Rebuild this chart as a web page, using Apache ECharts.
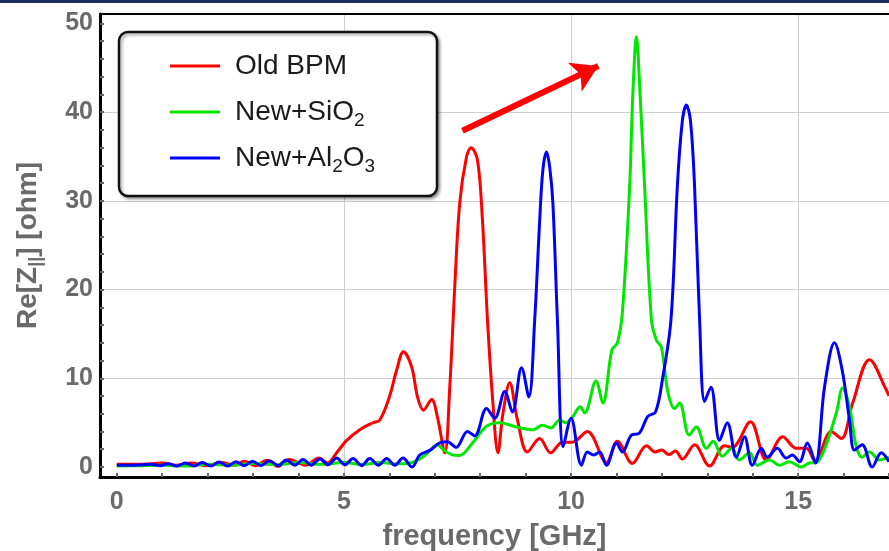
<!DOCTYPE html>
<html>
<head>
<meta charset="utf-8">
<script src="https://cdn.jsdelivr.net/npm/echarts@6/dist/echarts.min.js"></script>
<style>html,body{margin:0;padding:0;background:#fff;}#c{width:889px;height:551px;}</style>
</head>
<body>
<div id="c"></div>
<script>
// ---- data (frequency GHz, Re[Z] ohm) ----
const oldBPM = [[0,0.3],[0.5,0.3],[1.0,0.45],[1.3,0.2],[1.65,0.45],[1.95,0.15],[2.3,0.5],[2.6,0.2],[2.8,0.65],[3.05,0.15],[3.3,0.75],[3.55,0.05],[3.8,0.85],[4.15,0.2],[4.45,1.0],[4.64,0.45],[4.84,1.6],[5.06,3.0],[5.35,4.2],[5.63,4.96],[5.79,5.3],[6.0,7.9],[6.16,10.9],[6.31,13.0],[6.49,11.3],[6.62,7.9],[6.75,6.4],[6.93,7.6],[7.06,5.6],[7.22,1.6],[7.33,9.0],[7.44,20.3],[7.55,29.8],[7.7,35.0],[7.8,36.0],[7.94,34.6],[8.05,27.8],[8.16,16.6],[8.28,7.2],[8.39,1.6],[8.5,6.0],[8.65,9.5],[8.82,5.3],[9.04,1.7],[9.31,3.2],[9.55,1.6],[9.81,2.8],[10.03,2.8],[10.36,4.0],[10.78,0.5],[11.02,2.9],[11.35,0.4],[11.66,2.4],[11.85,1.7],[12.0,1.9],[12.15,1.4],[12.3,1.8],[12.45,0.9],[12.72,2.5],[13.05,0.1],[13.38,2.4],[13.55,2.2],[13.95,5.1],[14.3,0.8],[14.66,3.4],[14.96,2.1],[15.18,2.1],[15.37,0.7],[15.73,4.0],[15.95,3.2],[16.2,7.2],[16.57,12.1],[16.94,8.7],[17.0,8.0]];

const newSiO2 = [[0,0.1],[0.5,0.15],[1.0,0.2],[1.5,0.1],[2.0,0.3],[2.5,0.2],[3.0,0.4],[3.5,0.25],[4.0,0.5],[4.5,0.3],[5.0,0.5],[5.4,0.3],[5.8,0.5],[6.2,0.35],[6.5,0.5],[6.73,1.1],[6.9,1.9],[7.05,2.5],[7.2,1.9],[7.4,1.35],[7.55,1.3],[7.83,2.7],[8.14,4.6],[8.43,5.0],[8.8,4.5],[9.16,4.2],[9.37,4.7],[9.56,4.4],[9.75,5.3],[9.88,5.0],[10.03,5.6],[10.2,6.8],[10.3,6.1],[10.55,9.7],[10.7,7.2],[10.9,13.2],[11.02,14.0],[11.13,17.4],[11.29,31.6],[11.36,42.0],[11.44,48.5],[11.52,42.0],[11.62,31.6],[11.77,16.6],[11.88,14.3],[11.99,13.5],[12.13,8.5],[12.28,6.6],[12.39,7.2],[12.6,3.6],[12.76,4.5],[12.98,2.1],[13.13,2.9],[13.33,1.2],[13.54,2.1],[13.7,0.8],[13.93,1.6],[14.1,0.2],[14.37,0.8],[14.59,0.2],[14.8,0.6],[15.07,0.0],[15.25,0.45],[15.4,0.5],[15.6,2.3],[15.84,6.1],[15.98,8.9],[16.13,6.8],[16.28,2.3],[16.41,1.1],[16.57,1.7],[16.79,0.8],[17.0,1.1]];

const newAl2O3 = [[0,0.2],[0.4,0.2],[0.77,0.3],[0.95,0.15],[1.14,0.35],[1.32,0.1],[1.51,0.45],[1.7,0.1],[1.88,0.5],[2.07,0.1],[2.25,0.55],[2.44,0.1],[2.62,0.6],[2.8,0.15],[2.99,0.65],[3.17,0.15],[3.36,0.7],[3.55,0.15],[3.73,0.8],[3.92,0.2],[4.1,0.85],[4.28,0.2],[4.47,0.9],[4.65,0.25],[4.84,1.0],[5.02,0.25],[5.2,0.95],[5.39,0.15],[5.57,0.95],[5.76,0.2],[5.94,0.95],[6.12,0.2],[6.3,1.0],[6.5,0.0],[6.67,1.35],[6.9,1.9],[7.1,2.7],[7.28,2.85],[7.47,2.2],[7.72,4.0],[7.88,3.5],[8.14,6.6],[8.32,5.5],[8.54,8.5],[8.71,6.2],[8.91,11.2],[9.07,7.9],[9.2,16.6],[9.31,27.8],[9.38,33.5],[9.46,35.5],[9.53,33.8],[9.6,29.8],[9.7,16.6],[9.83,2.3],[10.0,5.5],[10.23,0.2],[10.36,1.7],[10.5,1.35],[10.63,1.7],[10.78,0.2],[11.0,2.7],[11.13,1.7],[11.33,3.6],[11.5,3.8],[11.69,5.7],[11.86,6.2],[12.01,9.8],[12.2,16.6],[12.34,31.6],[12.45,39.0],[12.54,40.8],[12.63,39.0],[12.72,31.6],[12.83,16.6],[12.94,7.4],[13.08,9.0],[13.27,3.0],[13.44,5.0],[13.64,1.1],[13.82,3.4],[13.99,0.2],[14.19,2.1],[14.32,1.1],[14.54,2.1],[14.74,1.0],[14.87,1.35],[15.03,0.6],[15.2,2.7],[15.38,0.45],[15.58,9.0],[15.8,14.0],[15.97,10.9],[16.13,5.3],[16.24,1.9],[16.41,2.5],[16.63,0.0],[16.83,1.6],[17.0,0.6]];

const seriesNames = ['Old BPM', 'New+SiO2', 'New+Al2O3'];
const xMajorLabels = [0, 5, 10, 15];
const xGridValues = [5, 10, 15];
const xMinorTicks = [0,1,2,3,4,5,6,7,8,9,10,11,12,13,14,15,16,17];
const yMajorLabels = [0, 10, 20, 30, 40, 50];
const yGridValues = [10, 20, 30, 40];
const yMinorTicks = [0,2,4,6,8,10,12,14,16,18,20,22,24,26,28,30,32,34,36,38,40,42,44,46,48,50];
const arrowStart = [7.61, 37.9];
const arrowEnd = [10.6, 45.2];

const FONT = 'Liberation Sans, Arial, sans-serif';
const chart = echarts.init(document.getElementById('c'), null, {renderer: 'canvas'});

const labelStyle = {color: '#6a6a6a', fontWeight: 'bold', fontSize: 25, fontFamily: FONT};
const legendNames = {
  'Old BPM': 'Old BPM',
  'New+SiO2': 'New+SiO{s|2}',
  'New+Al2O3': 'New+Al{s|2}O{s|3}'
};

chart.setOption({
  animation: false,
  backgroundColor: '#ffffff',
  grid: {left: 100, right: 0, top: 14, bottom: 74, containLabel: false, outerBoundsMode: 'none'},
  xAxis: [{
    type: 'value', min: -0.37, max: 17.0,
    axisLine: {show: true, onZero: false, lineStyle: {color: '#000', width: 3}},
    axisTick: {show: true, inside: true, length: 4, customValues: xMinorTicks, lineStyle: {color: '#666', width: 2}},
    axisLabel: {show: true, customValues: xMajorLabels, margin: 13, ...labelStyle},
    splitLine: {show: false},
    name: 'frequency [GHz]', nameLocation: 'middle', nameGap: 45,
    nameTextStyle: {color: '#6a6a6a', fontWeight: 'bold', fontSize: 29, fontFamily: FONT}
  }, {
    type: 'value', min: -0.37, max: 17.0, position: 'top',
    axisLine: {show: true, onZero: false, lineStyle: {color: '#000', width: 2}},
    axisTick: {show: false, customValues: xGridValues},
    axisLabel: {show: false},
    splitLine: {show: true, lineStyle: {color: '#cfcfcf', width: 1}}
  }],
  yAxis: [{
    type: 'value', min: -1.13, max: 51.07,
    axisLine: {show: true, onZero: false, lineStyle: {color: '#000', width: 3}},
    axisTick: {show: true, inside: true, length: 4, customValues: yMinorTicks, lineStyle: {color: '#666', width: 2}},
    axisLabel: {show: true, customValues: yMajorLabels, margin: 7, ...labelStyle},
    splitLine: {show: false},
    name: 'Re[Z{s|||}] [ohm]', nameLocation: 'middle', nameGap: 55, nameRotate: 90,
    nameTextStyle: {color: '#6a6a6a', fontWeight: 'bold', fontSize: 28, fontFamily: FONT,
      rich: {s: {fontSize: 18, fontWeight: 'bold', color: '#6a6a6a', fontFamily: FONT, padding: [16,0,0,0]}}}
  }, {
    type: 'value', min: -1.13, max: 51.07, position: 'right',
    axisLine: {show: false},
    axisTick: {show: false, customValues: yGridValues},
    axisLabel: {show: false},
    splitLine: {show: true, lineStyle: {color: '#cfcfcf', width: 1}}
  }],
  legend: {
    orient: 'vertical', left: 170, top: 48, padding: 0, itemGap: 10,
    itemWidth: 50, itemHeight: 3, icon: 'rect', z: 10,
    data: seriesNames,
    formatter: n => legendNames[n],
    textStyle: {color: '#1a1a1a', fontSize: 28, fontFamily: FONT, lineHeight: 36, padding: [0,0,0,10],
      rich: {s: {fontSize: 19, color: '#1a1a1a', fontFamily: FONT, lineHeight: 19, padding: [17,0,0,0]}}}
  },
  graphic: [
    {type: 'rect', left: 0, top: 0, z: 100, shape: {width: 889, height: 3}, style: {fill: '#1f2b5e'}},
    {type: 'rect', z: 5, shape: {x: 119, y: 32, width: 318, height: 164, r: 9},
     style: {fill: '#ffffff', stroke: '#111', lineWidth: 2.5, shadowBlur: 3, shadowOffsetX: 2, shadowOffsetY: 2, shadowColor: 'rgba(0,0,0,0.35)'}}
  ],
  series: [{
    name: 'Old BPM', type: 'line', data: oldBPM, xAxisIndex: 0, yAxisIndex: 0,
    showSymbol: false, symbol: 'none', smooth: 0.35, z: 3,
    lineStyle: {color: '#ff0000', width: 3}, itemStyle: {color: '#ff0000'},
    markLine: {
      silent: true, symbol: ['none', 'arrow'], symbolSize: [24, 26],
      label: {show: false}, lineStyle: {color: '#ff0000', width: 6, type: 'solid'},
      emphasis: {disabled: true},
      data: [[{coord: arrowStart}, {coord: arrowEnd}]]
    }
  }, {
    name: 'New+SiO2', type: 'line', data: newSiO2, xAxisIndex: 0, yAxisIndex: 0,
    showSymbol: false, symbol: 'none', smooth: 0.35, z: 4,
    lineStyle: {color: '#00e600', width: 3}, itemStyle: {color: '#00e600'}
  }, {
    name: 'New+Al2O3', type: 'line', data: newAl2O3, xAxisIndex: 0, yAxisIndex: 0,
    showSymbol: false, symbol: 'none', smooth: 0.35, z: 5,
    lineStyle: {color: '#0000ff', width: 3}, itemStyle: {color: '#0000ff'}
  }]
});
</script>
</body>
</html>
